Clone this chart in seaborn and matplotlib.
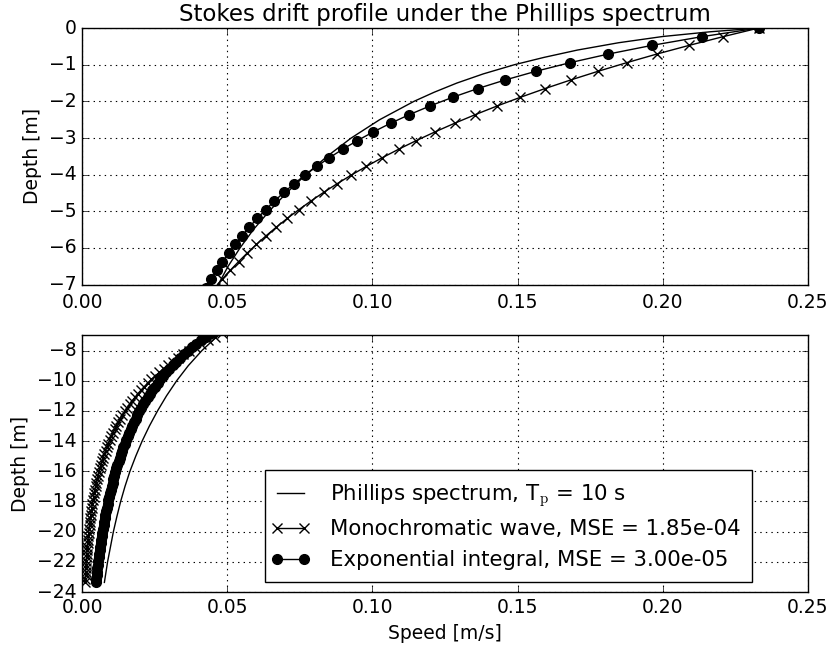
import matplotlib
matplotlib.use('Agg')
from matplotlib import pyplot as plt
from matplotlib.lines import Line2D
from matplotlib.legend_handler import HandlerLine2D
import seaborn as sns

# depth of the sample points [m]
depth = [0.0, -0.236, -0.472, -0.708, -0.944, -1.180, -1.416, -1.652, -1.888, -2.124,
         -2.360, -2.596, -2.832, -3.068, -3.304, -3.540, -3.776, -4.012, -4.248, -4.484,
         -4.720, -4.956, -5.192, -5.428, -5.664, -5.900, -6.136, -6.372, -6.608, -6.844,
         -7.080, -7.316, -7.552, -7.788, -8.024, -8.260, -8.496, -8.732, -8.968, -9.204,
         -9.440, -9.676, -9.912, -10.148, -10.384, -10.620, -10.856, -11.092, -11.328, -11.564,
         -11.800, -12.036, -12.272, -12.508, -12.744, -12.980, -13.216, -13.452, -13.688, -13.924,
         -14.160, -14.396, -14.632, -14.868, -15.104, -15.340, -15.576, -15.812, -16.048, -16.284,
         -16.520, -16.756, -16.992, -17.228, -17.464, -17.700, -17.936, -18.172, -18.408, -18.644,
         -18.880, -19.116, -19.352, -19.588, -19.824, -20.060, -20.296, -20.532, -20.768, -21.004,
         -21.240, -21.476, -21.712, -21.948, -22.184, -22.420, -22.656, -22.892, -23.128, -23.364]

# monochromatic wave profile [m/s]
mono_speed = [0.2330, 0.2207, 0.2091, 0.1980, 0.1876, 0.1777, 0.1683, 0.1594, 0.1510, 0.1430,
              0.13550, 0.12835, 0.12158, 0.11516, 0.10908, 0.10333, 0.09788, 0.09271, 0.08782, 0.08319,
              0.07880, 0.07464, 0.07070, 0.06697, 0.06343, 0.06009, 0.05692, 0.05391, 0.05107, 0.04837,
              0.04582, 0.04341, 0.04111, 0.03895, 0.03689, 0.03494, 0.03310, 0.03135, 0.02970, 0.02813,
              0.02665, 0.02524, 0.02391, 0.02265, 0.02145, 0.02032, 0.01925, 0.01823, 0.01727, 0.01636,
              0.01550, 0.01468, 0.01390, 0.01317, 0.01248, 0.01182, 0.01119, 0.01060, 0.01004, 0.00951,
              0.00901, 0.00854, 0.00809, 0.00766, 0.00725, 0.00687, 0.00651, 0.00617, 0.00584, 0.00553,
              0.00524, 0.00496, 0.00470, 0.00445, 0.00422, 0.00400, 0.00379, 0.00359, 0.00340, 0.00322,
              0.00305, 0.00289, 0.00273, 0.00259, 0.00245, 0.00232, 0.00220, 0.00209, 0.00198, 0.00187,
              0.00177, 0.00168, 0.00159, 0.00151, 0.00143, 0.00135, 0.00128, 0.00121, 0.00115, 0.00109]

# exponential integral profile [m/s]
expint_speed = [0.2330, 0.21337, 0.19629, 0.18131, 0.16806, 0.15627, 0.14572, 0.13623, 0.12765, 0.11987,
                0.11277, 0.10629, 0.10034, 0.09486, 0.08981, 0.08514, 0.08081, 0.07678, 0.07303, 0.06954,
                0.06627, 0.06321, 0.06035, 0.05765, 0.05512, 0.05274, 0.05049, 0.04837, 0.04637, 0.04447,
                0.04268, 0.04098, 0.03936, 0.03783, 0.03638, 0.03499, 0.03367, 0.03242, 0.03122, 0.03008,
                0.02899, 0.02795, 0.02696, 0.02601, 0.02510, 0.02423, 0.02340, 0.02260, 0.02184, 0.02111,
                0.02040, 0.01973, 0.01908, 0.01846, 0.01786, 0.01728, 0.01673, 0.01620, 0.01569, 0.01519,
                0.01472, 0.01426, 0.01382, 0.01340, 0.01299, 0.01259, 0.01221, 0.01184, 0.01149, 0.01115,
                0.01082, 0.01050, 0.01019, 0.00989, 0.00960, 0.00932, 0.00905, 0.00879, 0.00854, 0.00830,
                0.00806, 0.00784, 0.00761, 0.00740, 0.00719, 0.00699, 0.00680, 0.00661, 0.00643, 0.00625,
                0.00608, 0.00591, 0.00575, 0.00560, 0.00545, 0.00530, 0.00516, 0.00502, 0.00488, 0.00475]

# Phillips spectrum profile (plain line, own depth points)
phillips_depth = [0.0, -0.1, -0.23, -0.4, -0.6, -0.8, -1.0, -1.25, -1.5, -1.75,
                  -2.0, -2.5, -3.0, -3.5, -4.0, -4.5, -5.0, -5.5, -6.0, -6.5,
                  -7.0, -8.0, -9.0, -10.0, -11.0, -12.0, -13.0, -14.0, -15.0, -16.0,
                  -17.0, -18.0, -19.0, -20.0, -21.0, -22.0, -23.364]
phillips_speed = [0.2330, 0.2165, 0.2000, 0.1848, 0.1706, 0.1591, 0.1489, 0.1382, 0.1291, 0.1213,
                  0.1143, 0.1025, 0.0927, 0.0844, 0.0771, 0.0704, 0.0644, 0.0590, 0.0544, 0.0503,
                  0.0469, 0.0413, 0.0366, 0.0326, 0.0291, 0.0260, 0.0232, 0.0207, 0.0185, 0.0165,
                  0.0148, 0.0133, 0.0120, 0.0108, 0.0098, 0.0088, 0.0077]

labels = ['Phillips spectrum, T$_{\\mathrm{p}}$ = 10 s',
          'Monochromatic wave, MSE = 1.85e-04',
          'Exponential integral, MSE = 3.00e-05']

plt.style.use('classic')
plt.rcParams['figure.facecolor'] = 'white'
plt.rcParams['savefig.facecolor'] = 'white'
plt.rcParams['mathtext.fontset'] = 'cm'
plt.rcParams['font.family'] = ['DejaVu Sans']

fig, (ax1, ax2) = plt.subplots(2, 1, figsize=(8.32, 6.53), dpi=100)
plt.subplots_adjust(left=0.0986, right=0.971, top=0.957, bottom=0.0934, hspace=0.198)

for ax, lab in [(ax1, False), (ax2, True)]:
    sns.lineplot(x=phillips_speed, y=phillips_depth, ax=ax, sort=False, estimator=None,
                 color='k', lw=1, label=labels[0] if lab else None, legend=False)
    sns.lineplot(x=mono_speed, y=depth, ax=ax, sort=False, estimator=None,
                 color='k', lw=1, marker='x', ms=7.5, mec='k', mew=1,
                 label=labels[1] if lab else None, legend=False)
    sns.lineplot(x=expint_speed, y=depth, ax=ax, sort=False, estimator=None,
                 color='k', lw=1, marker='o', ms=7, mec='k', mfc='k', mew=1,
                 label=labels[2] if lab else None, legend=False)
    ax.set_xlim(0, 0.25)
    ax.set_xticks([0.0, 0.05, 0.10, 0.15, 0.20, 0.25])
    ax.set_xticklabels(['0.00', '0.05', '0.10', '0.15', '0.20', '0.25'])
    ax.grid(True, color='k', linestyle=':', linewidth=0.8)
    ax.tick_params(labelsize=13.5, direction='in', top=True, right=True)
    ax.set_ylabel('Depth [m]', fontsize=13.5)

ax1.set_ylim(-7, 0)
ax1.set_yticks(range(-7, 1))
ax1.tick_params(axis='x', pad=6)
ax1.set_title('Stokes drift profile under the Phillips spectrum', fontsize=16.5)

ax2.set_ylim(-24, -7)
ax2.set_yticks(range(-24, -7, 2))
ax2.set_xlabel('Speed [m/s]', fontsize=13.5)
# old-style legend handles: markers sit on the ends of the line
ax2.legend(loc='lower right', bbox_to_anchor=(0.923, 0.04), borderaxespad=0,
           numpoints=2, handlelength=1.3, handletextpad=1.2, borderpad=0.55,
           fontsize=15.3, labelspacing=0.5, frameon=True,
           handler_map={Line2D: HandlerLine2D(marker_pad=0, numpoints=2)})

plt.savefig('out.png', dpi=100)
